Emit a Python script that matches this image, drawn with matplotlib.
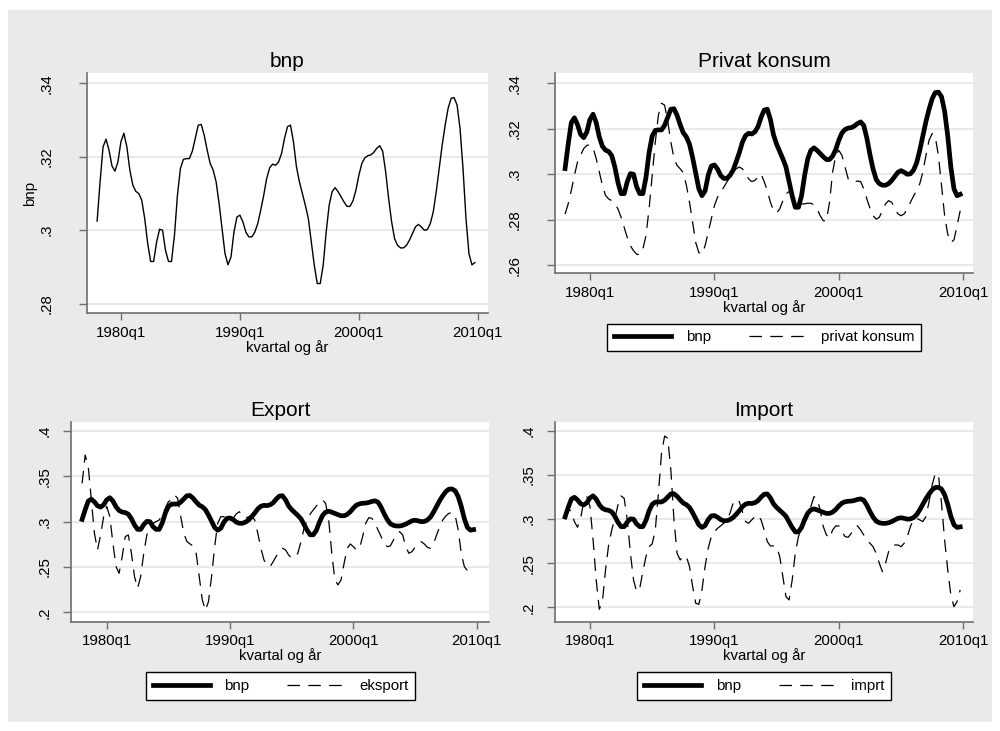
import numpy as np
import matplotlib
matplotlib.use("Agg")
import matplotlib.pyplot as plt
from matplotlib.patches import Rectangle
from matplotlib.lines import Line2D

plt.rcParams['font.family'] = ['Liberation Sans', 'DejaVu Sans']
plt.rcParams['lines.scale_dashes'] = False

# ---------------- data (quarterly, 1978q1 .. 2009q4) ----------------
start_year = 1978
bnp = [0.3025, 0.3132, 0.3227, 0.3248, 0.3218, 0.3175, 0.3161, 0.3186, 0.3241, 0.3264,
       0.3227, 0.3164, 0.3123, 0.3106, 0.3100, 0.3082, 0.3032, 0.2964, 0.2915, 0.2915,
       0.2968, 0.3003, 0.3000, 0.2945, 0.2915, 0.2915, 0.2986, 0.3095, 0.3168, 0.3193,
       0.3195, 0.3195, 0.3215, 0.3250, 0.3286, 0.3288, 0.3259, 0.3218, 0.3182, 0.3164,
       0.3132, 0.3073, 0.3005, 0.2936, 0.2906, 0.2927, 0.2995, 0.3036, 0.3041, 0.3023,
       0.2995, 0.2982, 0.2982, 0.2995, 0.3018, 0.3055, 0.3095, 0.3141, 0.3170, 0.3180,
       0.3177, 0.3186, 0.3209, 0.3250, 0.3282, 0.3286, 0.3241, 0.3173, 0.3132, 0.3100,
       0.3068, 0.3032, 0.2968, 0.2905, 0.2855, 0.2855, 0.2905, 0.2995, 0.3068, 0.3105,
       0.3116, 0.3105, 0.3091, 0.3077, 0.3065, 0.3065, 0.3080, 0.3109, 0.3150, 0.3182,
       0.3197, 0.3203, 0.3205, 0.3212, 0.3223, 0.3230, 0.3215, 0.3159, 0.3086, 0.3023,
       0.2977, 0.2959, 0.2952, 0.2952, 0.2959, 0.2973, 0.2991, 0.3009, 0.3016, 0.3009,
       0.3000, 0.3002, 0.3018, 0.3050, 0.3105, 0.3168, 0.3232, 0.3286, 0.3332, 0.3359,
       0.3361, 0.3341, 0.3277, 0.3168, 0.3032, 0.2936, 0.2906, 0.2912]

privat_konsum = [0.2825, 0.2870, 0.2929, 0.2995, 0.3054, 0.3083, 0.3113, 0.3127, 0.3130, 0.3116,
                 0.3069, 0.3010, 0.2951, 0.2907, 0.2892, 0.2884, 0.2870, 0.2848, 0.2811, 0.2767,
                 0.2722, 0.2686, 0.2664, 0.2649, 0.2646, 0.2671, 0.2730, 0.2848, 0.2995, 0.3142,
                 0.3260, 0.3312, 0.3304, 0.3231, 0.3142, 0.3069, 0.3039, 0.3024, 0.3007, 0.2951,
                 0.2877, 0.2789, 0.2700, 0.2656, 0.2649, 0.2686, 0.2745, 0.2804, 0.2862, 0.2899,
                 0.2921, 0.2943, 0.2966, 0.2988, 0.3010, 0.3024, 0.3032, 0.3024, 0.3002, 0.2980,
                 0.2968, 0.2973, 0.2988, 0.3002, 0.2968, 0.2929, 0.2877, 0.2840, 0.2830, 0.2848,
                 0.2884, 0.2914, 0.2924, 0.2910, 0.2889, 0.2874, 0.2870, 0.2870, 0.2873, 0.2873,
                 0.2865, 0.2848, 0.2818, 0.2796, 0.2796, 0.2877, 0.3010, 0.3083, 0.3105, 0.3083,
                 0.3032, 0.2980, 0.2966, 0.2968, 0.2970, 0.2968, 0.2936, 0.2892, 0.2851, 0.2818,
                 0.2803, 0.2811, 0.2840, 0.2870, 0.2884, 0.2877, 0.2848, 0.2826, 0.2818, 0.2826,
                 0.2848, 0.2877, 0.2904, 0.2929, 0.2958, 0.3010, 0.3083, 0.3150, 0.3179, 0.3164,
                 0.3083, 0.2951, 0.2818, 0.2737, 0.2700, 0.2712, 0.2774, 0.2840]

eksport = [0.3423, 0.3735, 0.3607, 0.3239, 0.2871, 0.2688, 0.2853, 0.3055, 0.3166, 0.3055,
           0.2761, 0.2504, 0.2430, 0.2614, 0.2835, 0.2853, 0.2651, 0.2394, 0.2265, 0.2394,
           0.2651, 0.2853, 0.2945, 0.2982, 0.3000, 0.3018, 0.3074, 0.3147, 0.3221, 0.3239,
           0.3294, 0.3257, 0.3055, 0.2871, 0.2780, 0.2754, 0.2732, 0.2651, 0.2394, 0.2136,
           0.2019, 0.2118, 0.2394, 0.2724, 0.2982, 0.3055, 0.3055, 0.3018, 0.3037, 0.3037,
           0.3085, 0.3110, 0.3074, 0.3037, 0.3055, 0.3063, 0.3018, 0.2871, 0.2706, 0.2577,
           0.2522, 0.2504, 0.2559, 0.2620, 0.2669, 0.2706, 0.2688, 0.2632, 0.2596, 0.2614,
           0.2651, 0.2780, 0.2927, 0.3018, 0.3085, 0.3129, 0.3173, 0.3210, 0.3239, 0.3202,
           0.3018, 0.2651, 0.2357, 0.2302, 0.2357, 0.2541, 0.2706, 0.2754, 0.2724, 0.2688,
           0.2706, 0.2835, 0.2982, 0.3044, 0.3037, 0.2982, 0.2908, 0.2835, 0.2761, 0.2724,
           0.2732, 0.2798, 0.2853, 0.2890, 0.2853, 0.2724, 0.2651, 0.2669, 0.2717, 0.2754,
           0.2780, 0.2754, 0.2717, 0.2706, 0.2754, 0.2853, 0.2945, 0.3018, 0.3063, 0.3092,
           0.3100, 0.3074, 0.2908, 0.2651, 0.2504, 0.2460, 0.2450, 0.2480]

imprt = [0.3029, 0.3123, 0.3085, 0.2972, 0.2908, 0.3010, 0.3199, 0.3255, 0.3142, 0.2764,
         0.2311, 0.1978, 0.2065, 0.2424, 0.2707, 0.2877, 0.3010, 0.3161, 0.3263, 0.3236,
         0.2991, 0.2613, 0.2311, 0.2178, 0.2216, 0.2405, 0.2575, 0.2688, 0.2719, 0.2877,
         0.3293, 0.3747, 0.3943, 0.3917, 0.3558, 0.2991, 0.2613, 0.2537, 0.2583, 0.2575,
         0.2462, 0.2235, 0.2046, 0.2034, 0.2197, 0.2462, 0.2669, 0.2802, 0.2858, 0.2896,
         0.2923, 0.2953, 0.2991, 0.3066, 0.3180, 0.3225, 0.3199, 0.3085, 0.2972, 0.2953,
         0.2991, 0.3029, 0.3047, 0.2991, 0.2877, 0.2745, 0.2696, 0.2696, 0.2688, 0.2575,
         0.2348, 0.2121, 0.2084, 0.2310, 0.2613, 0.2802, 0.2877, 0.2953, 0.3029, 0.3142,
         0.3255, 0.3236, 0.3104, 0.2915, 0.2821, 0.2783, 0.2877, 0.2923, 0.2923, 0.2858,
         0.2802, 0.2794, 0.2840, 0.2908, 0.2923, 0.2877, 0.2821, 0.2764, 0.2726, 0.2688,
         0.2613, 0.2500, 0.2405, 0.2500, 0.2632, 0.2688, 0.2707, 0.2707, 0.2688, 0.2726,
         0.2802, 0.2915, 0.2999, 0.3010, 0.2991, 0.2972, 0.3029, 0.3199, 0.3388, 0.3520,
         0.3501, 0.3180, 0.2764, 0.2424, 0.2140, 0.2008, 0.2065, 0.2197]

xtick_years = [1980, 1990, 2000, 2010]
xtick_labels = ["1980q1", "1990q1", "2000q1", "2010q1"]
yticks_top = [0.28, 0.30, 0.32, 0.34]
ylabels_top = [".28", ".3", ".32", ".34"]
yticks_priv = [0.26, 0.28, 0.30, 0.32, 0.34]
ylabels_priv = [".26", ".28", ".3", ".32", ".34"]
yticks_bot = [0.20, 0.25, 0.30, 0.35, 0.40]
ylabels_bot = [".2", ".25", ".3", ".35", ".4"]

t = start_year + np.arange(len(bnp)) / 4.0

# ---------------- figure ----------------
W, H = 1000, 731
fig = plt.figure(figsize=(W / 100, H / 100), dpi=100, facecolor='white')
BG = '#EAEAEA'
fig.patches.append(Rectangle((8 / W, 1 - 722 / H), 984 / W, 712 / H,
                             transform=fig.transFigure, facecolor=BG,
                             edgecolor='none', zorder=-10))

FS = 10.8
TFS = 15
GRID = '#E3E3E3'
AX = '#6E6E6E'


def px_axes(x0, y0, x1, y1):
    return fig.add_axes([x0 / W, 1 - y1 / H, (x1 - x0) / W, (y1 - y0) / H])


def style(ax, yt, yl, ylim, xlim, ypad, title):
    ax.set_facecolor('white')
    ax.set_xlim(*xlim)
    ax.set_ylim(*ylim)
    ax.set_yticks(yt)
    ax.set_yticklabels(yl, rotation=90, va='center', fontsize=FS)
    ax.set_xticks(xtick_years)
    ax.set_xticklabels(xtick_labels, fontsize=FS)
    ax.tick_params(axis='y', length=6, width=1, color=AX, pad=ypad)
    ax.tick_params(axis='x', length=5, width=1, color=AX, pad=4)
    for s in ['top', 'right']:
        ax.spines[s].set_visible(False)
    for s in ['left', 'bottom']:
        ax.spines[s].set_color(AX)
        ax.spines[s].set_linewidth(1.2)
    ax.grid(axis='y', color=GRID, linewidth=1.1)
    ax.set_axisbelow(True)
    ax.set_title(title, fontsize=TFS, pad=4)
    ax.set_xlabel("kvartal og år", fontsize=FS, labelpad=0)


THICK = 3.4
DASH = (0, (9, 6))

# Panel 1: bnp
ax1 = px_axes(87, 73, 488, 313.3)
ax1.plot(t, bnp, color='black', linewidth=1.0)
style(ax1, yticks_top, ylabels_top, (0.2774, 0.3428), (1977.15, 2010.85), 18, "bnp")
ax1.set_ylabel("bnp", fontsize=FS, labelpad=2)

# Panel 2: Privat konsum
ax2 = px_axes(555, 73, 973, 273.3)
ax2.plot(t, bnp, color='black', linewidth=THICK, label='bnp', solid_joinstyle='round')
ax2.plot(t, privat_konsum, color='black', linewidth=0.9, linestyle=DASH, label='privat konsum')
style(ax2, yticks_priv, ylabels_priv, (0.2565, 0.3445), (1977.19, 2010.78), 18, "Privat konsum")

# Panel 3: Export
ax3 = px_axes(71, 421.7, 489, 621.7)
ax3.plot(t, bnp, color='black', linewidth=THICK, label='bnp', solid_joinstyle='round')
ax3.plot(t, eksport, color='black', linewidth=0.9, linestyle=DASH, label='eksport')
style(ax3, yticks_bot, ylabels_bot, (0.1896, 0.4103), (1977.1, 2011.0), 8, "Export")

# Panel 4: Import
ax4 = px_axes(555, 421.7, 973, 621.7)
ax4.plot(t, bnp, color='black', linewidth=THICK, label='bnp', solid_joinstyle='round')
ax4.plot(t, imprt, color='black', linewidth=0.9, linestyle=DASH, label='imprt')
style(ax4, yticks_bot, ylabels_bot, (0.1837, 0.4105), (1977.19, 2010.78), 8, "Import")


def add_legend(ax, cx, cy):
    h, l = ax.get_legend_handles_labels()
    leg = fig.legend(h, l, loc='center', bbox_to_anchor=(cx / W, 1 - cy / H),
                     ncol=2, fontsize=FS, frameon=True, fancybox=False,
                     edgecolor='black', facecolor='white', framealpha=1,
                     handlelength=3.8, handletextpad=1.0, columnspacing=2.5,
                     borderpad=0.45)
    leg.get_frame().set_linewidth(1.0)
    return leg


add_legend(ax2, 764, 337.5)
add_legend(ax3, 280.5, 686)
add_legend(ax4, 764, 686)

fig.savefig("out.png", dpi=100, facecolor=fig.get_facecolor())
